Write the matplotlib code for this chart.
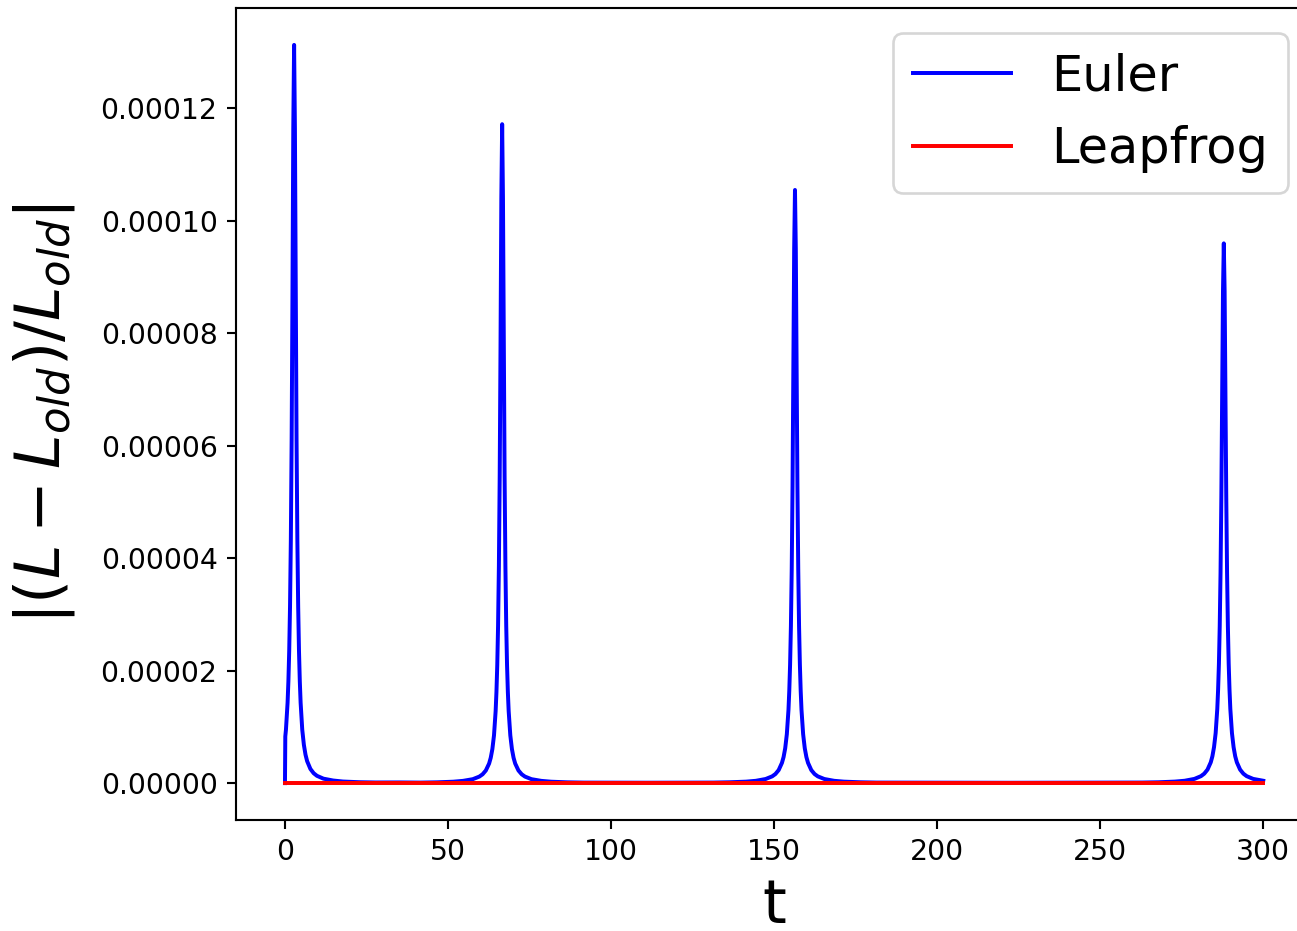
import matplotlib
matplotlib.use("Agg")
import matplotlib.pyplot as plt

# Relative change of angular momentum for the Euler integrator,
# one spike at each close passage
euler_t = [
    # first passage
    0.0, 0.1, 0.3, 0.8, 1.05, 1.3, 1.55, 1.8, 2.05, 2.3, 2.55, 2.8, 3.05, 3.3, 3.55,
    3.8, 4.05, 4.3, 4.55, 4.8, 5.3, 5.8, 6.3, 6.8, 7.8, 8.8, 9.8, 11.8, 14.8, 17.8,
    22.8, 27.8, 35.0,
    # second passage
    41.6, 46.6, 51.6, 54.6, 57.6, 59.6, 60.6, 61.6, 62.6, 63.1, 63.6, 64.1, 64.6,
    64.85, 65.1, 65.35, 65.6, 65.85, 66.1, 66.35, 66.6, 66.85, 67.1, 67.35, 67.6,
    67.85, 68.1, 68.35, 68.6, 69.1, 69.6, 70.1, 70.6, 71.6, 72.6, 73.6, 75.6, 78.6,
    81.6, 86.6, 91.6, 111.0,
    # third passage
    131.4, 136.4, 141.4, 144.4, 147.4, 149.4, 150.4, 151.4, 152.4, 152.9, 153.4,
    153.9, 154.4, 154.65, 154.9, 155.15, 155.4, 155.65, 155.9, 156.15, 156.4, 156.65,
    156.9, 157.15, 157.4, 157.65, 157.9, 158.15, 158.4, 158.9, 159.4, 159.9, 160.4,
    161.4, 162.4, 163.4, 165.4, 168.4, 171.4, 176.4, 181.4, 222.0,
    # fourth passage
    262.9, 267.9, 272.9, 275.9, 278.9, 280.9, 281.9, 282.9, 283.9, 284.4, 284.9,
    285.4, 285.9, 286.15, 286.4, 286.65, 286.9, 287.15, 287.4, 287.65, 287.9, 288.15,
    288.4, 288.65, 288.9, 289.15, 289.4, 289.65, 289.9, 290.4, 290.9, 291.4, 291.9,
    292.9, 293.9, 294.9, 296.9, 300.0,
]
euler_err = [
    # first passage
    0.0, 8.3e-6, 9.5e-6, 1.43e-5, 1.81e-5, 2.35e-5, 3.14e-5, 4.32e-5, 6.12e-5,
    8.69e-5, 1.165e-4, 1.313e-4, 1.165e-4, 8.69e-5, 6.12e-5, 4.32e-5, 3.14e-5,
    2.35e-5, 1.81e-5, 1.43e-5, 9.5e-6, 6.8e-6, 5.05e-6, 3.9e-6, 2.52e-6, 1.76e-6,
    1.30e-6, 7.9e-7, 4.6e-7, 2.8e-7, 1.6e-7, 1.1e-7, 1.2e-7,
    # second passage
    9e-8, 1.4e-7, 2.5e-7, 4.0e-7, 7.0e-7, 1.16e-6, 1.57e-6, 2.25e-6, 3.48e-6,
    4.51e-6, 6.05e-6, 8.5e-6, 1.28e-5, 1.62e-5, 2.10e-5, 2.80e-5, 3.86e-5, 5.46e-5,
    7.76e-5, 1.040e-4, 1.172e-4, 1.040e-4, 7.76e-5, 5.46e-5, 3.86e-5, 2.80e-5,
    2.10e-5, 1.62e-5, 1.28e-5, 8.5e-6, 6.05e-6, 4.51e-6, 3.48e-6, 2.25e-6, 1.57e-6,
    1.16e-6, 7.0e-7, 4.0e-7, 2.5e-7, 1.4e-7, 9e-8, 7e-8,
    # third passage
    9.5e-8, 1.5e-7, 2.6e-7, 4.1e-7, 7.3e-7, 1.20e-6, 1.62e-6, 2.32e-6, 3.6e-6,
    4.63e-6, 6.2e-6, 8.7e-6, 1.30e-5, 1.64e-5, 2.11e-5, 2.79e-5, 3.80e-5, 5.28e-5,
    7.30e-5, 9.50e-5, 1.055e-4, 9.50e-5, 7.30e-5, 5.28e-5, 3.80e-5, 2.79e-5,
    2.11e-5, 1.64e-5, 1.30e-5, 8.7e-6, 6.2e-6, 4.63e-6, 3.6e-6, 2.32e-6, 1.62e-6,
    1.20e-6, 7.3e-7, 4.1e-7, 2.6e-7, 1.5e-7, 9.5e-8, 6e-8,
    # fourth passage
    1.0e-7, 1.5e-7, 2.7e-7, 4.2e-7, 7.5e-7, 1.24e-6, 1.68e-6, 2.4e-6, 3.7e-6,
    4.77e-6, 6.4e-6, 8.9e-6, 1.32e-5, 1.66e-5, 2.12e-5, 2.79e-5, 3.74e-5, 5.11e-5,
    6.90e-5, 8.75e-5, 9.6e-5, 8.75e-5, 6.90e-5, 5.11e-5, 3.74e-5, 2.79e-5, 2.12e-5,
    1.66e-5, 1.32e-5, 8.9e-6, 6.4e-6, 4.77e-6, 3.7e-6, 2.4e-6, 1.68e-6, 1.24e-6,
    7.5e-7, 4.2e-7,
]

# Leapfrog keeps the angular momentum essentially constant
leapfrog_t = [0.0, 100.0, 200.0, 300.0]
leapfrog_err = [0.0, 0.0, 0.0, 0.0]

xticks = [0, 50, 100, 150, 200, 250, 300]


def plot_errors():
    fig = plt.figure(figsize=(1297 / 190, 931 / 190), dpi=190)
    ax = fig.add_axes([0.182, 0.1192, 0.8297, 0.8722])

    ax.plot(euler_t, euler_err, color="b", label="Euler")
    ax.plot(leapfrog_t, leapfrog_err, color="r", label="Leapfrog")

    ax.set_xticks(xticks)
    ax.tick_params(labelsize=10.7)
    ax.set_xlabel("t", fontsize=23)
    ax.set_ylabel(r"$|(L - L_{old})/L_{old}|$", fontsize=23.5)
    ax.yaxis.set_label_coords(-0.148, 0.5)
    ax.legend(loc="upper right", fontsize=18.7)

    fig.savefig("out.png", dpi=190)


if __name__ == "__main__":
    plot_errors()
